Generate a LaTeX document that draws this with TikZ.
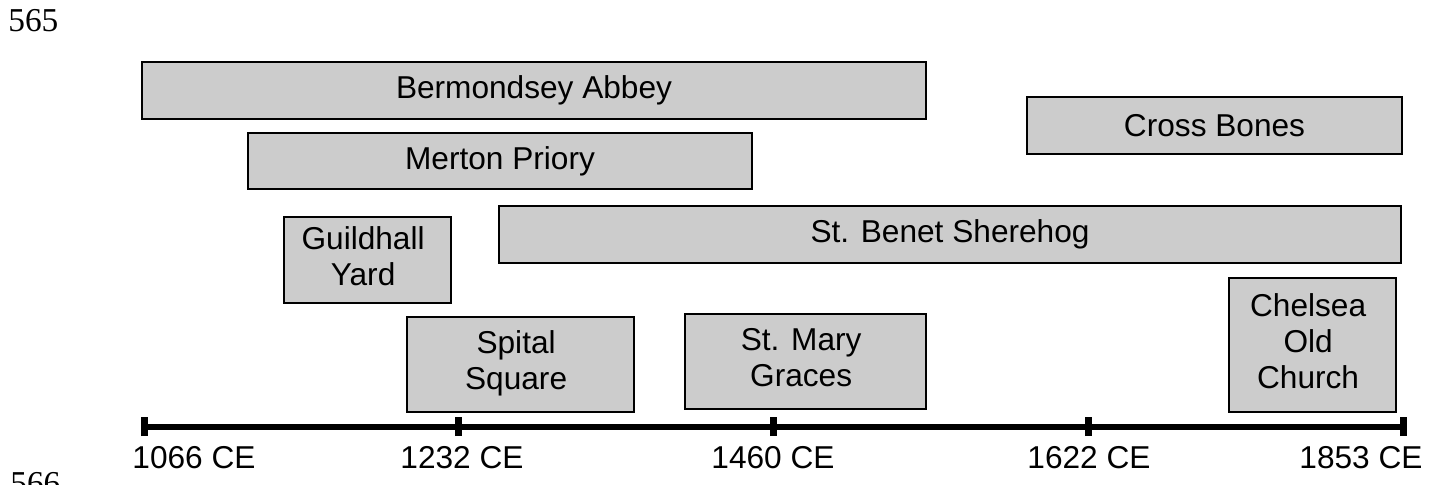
\documentclass[tikz,border=0pt]{standalone}
\usepackage{fontspec}
\setmainfont{Liberation Sans}
\newfontfamily\pagenumfont{Liberation Serif}
\usepackage{tikz}
\tikzstyle{site} = [rectangle, draw=black, fill=black!20, line width=0.85pt, inner sep=0pt, align=center, font=\fontsize{18}{20.5}\selectfont]
\tikzstyle{timeline} = [line width=0.12cm]
\tikzstyle{yeartick} = [line width=0.14cm]
\tikzstyle{yearlabel} = [anchor=base, inner sep=0pt, font=\fontsize{18}{20.5}\selectfont]
\tikzstyle{pagenum} = [anchor=base west, inner sep=0pt, font=\pagenumfont\fontsize{19}{21}\selectfont]

\begin{document}
\begin{tikzpicture}[x = 0.02cm, y = 0.02cm]

% ----------------------------------------------------

% helper grid (comment out once you're done!)
%\draw[help lines,step=10,thin,gray!20] (0,0) grid (1440, 484);
%\draw[help lines,step=100,gray!40,very thick] (0,0) grid (1440, 484);
%
% ----------------------------------------------------

  \useasboundingbox (0,0) rectangle (1440,484);

  % page numbers
  \node (page565) [pagenum] at (8, 452) {565};
  \node (page566) [pagenum] at (10, -10) {566};

  % burial sites
  \node (bermondsey) [site, minimum width=15.68cm, minimum height=1.14cm] at (534, 393.5) {Bermondsey Abbey};
  \node (merton) [site, minimum width=10.08cm, minimum height=1.13cm] at (500, 323) {Merton Priory};
  \node (crossbones) [site, minimum width=7.5cm, minimum height=1.14cm] at (1214.5, 358.5) {Cross Bones};
  \node (benet) [site, minimum width=18.04cm, minimum height=1.14cm] at (950, 249.5) {St. Benet Sherehog};
  \node (guildhall) [site, minimum width=3.34cm, minimum height=1.72cm] at (367.5, 224) {
  \begin{tabular}{c}
    Guildhall \\
    Yard
  \end{tabular}
  };
  \node (spital) [site, minimum width=4.54cm, minimum height=1.9cm] at (520.5, 119.5) {
  \begin{tabular}{c}
    Spital \\
    Square
  \end{tabular}
  };
  \node (marygraces) [site, minimum width=4.82cm, minimum height=1.9cm] at (805.5, 122.5) {
  \begin{tabular}{c}
    St. Mary \\
    Graces
  \end{tabular}
  };
  \node (chelsea) [site, minimum width=3.34cm, minimum height=2.68cm] at (1312.5, 139) {
  \begin{tabular}{c}
    Chelsea \\
    Old \\
    Church
  \end{tabular}
  };

  % time axis
  \coordinate (t1066) at (144, 57.5);
  \coordinate (t1232) at (458, 57.5);
  \coordinate (t1460) at (773, 57.5);
  \coordinate (t1622) at (1088, 57.5);
  \coordinate (t1853) at (1403, 57.5);

  \draw[timeline] (t1066) -- (t1853);
  \foreach \t in {t1066, t1232, t1460, t1622, t1853}
    \draw[yeartick] ([yshift=-0.19cm]\t) -- ([yshift=0.19cm]\t);

  \node (l1066) [yearlabel] at (194, 16) {1066 CE};
  \node (l1232) [yearlabel] at (462, 16) {1232 CE};
  \node (l1460) [yearlabel] at (773, 16) {1460 CE};
  \node (l1622) [yearlabel] at (1089, 16) {1622 CE};
  \node (l1853) [yearlabel] at (1361, 16) {1853 CE};

\end{tikzpicture}
\end{document}
